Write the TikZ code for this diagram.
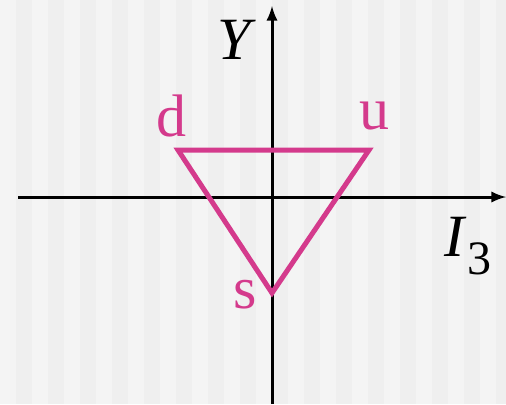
\documentclass[tikz,border=0pt]{standalone}
\usepackage{fontspec}
\setmainfont{Liberation Serif}
\definecolor{quark}{RGB}{212,58,140}
\definecolor{stripeA}{RGB}{244,244,244}
\definecolor{stripeB}{RGB}{239,239,239}
\begin{document}
\begin{tikzpicture}[x=.5pt,y=-.5pt,line width=1.5pt,>=latex,
  every node/.style={font=\fontsize{30}{32}\selectfont,inner sep=0pt}]
  \path[use as bounding box] (0,0) rectangle (506,404);
  \fill[stripeA] (0,0) rectangle (506,404);
  \foreach \s in {16,48,...,496}
    \fill[stripeB] (\s,0) rectangle (\s+16,404);
  \coordinate (xl) at (18,197);
  \coordinate (xr) at (506,197);
  \coordinate (yb) at (272,404);
  \coordinate (yt) at (272,6);
  \draw[->] (xl)--(xr);
  \draw[->] (yb)--(yt);
  \coordinate (d) at (178,150);
  \coordinate (u) at (369,150);
  \coordinate (s) at (272,293);
  \draw[quark,line width=2.5pt,line join=miter] (d)--(u)--(s)--cycle;
  \node (Ylab) at (237,40) {\textit{Y}};
  \node (Ilab) at (468,246) {\textit{I}\raisebox{-.3em}{\fontsize{24}{26}\selectfont 3}};
  \node[text=quark] (dlab) at (171,116) {d};
  \node[text=quark] (ulab) at (374,116) {u};
  \node[text=quark] (slab) at (245,295) {s};
\end{tikzpicture}
\end{document}
